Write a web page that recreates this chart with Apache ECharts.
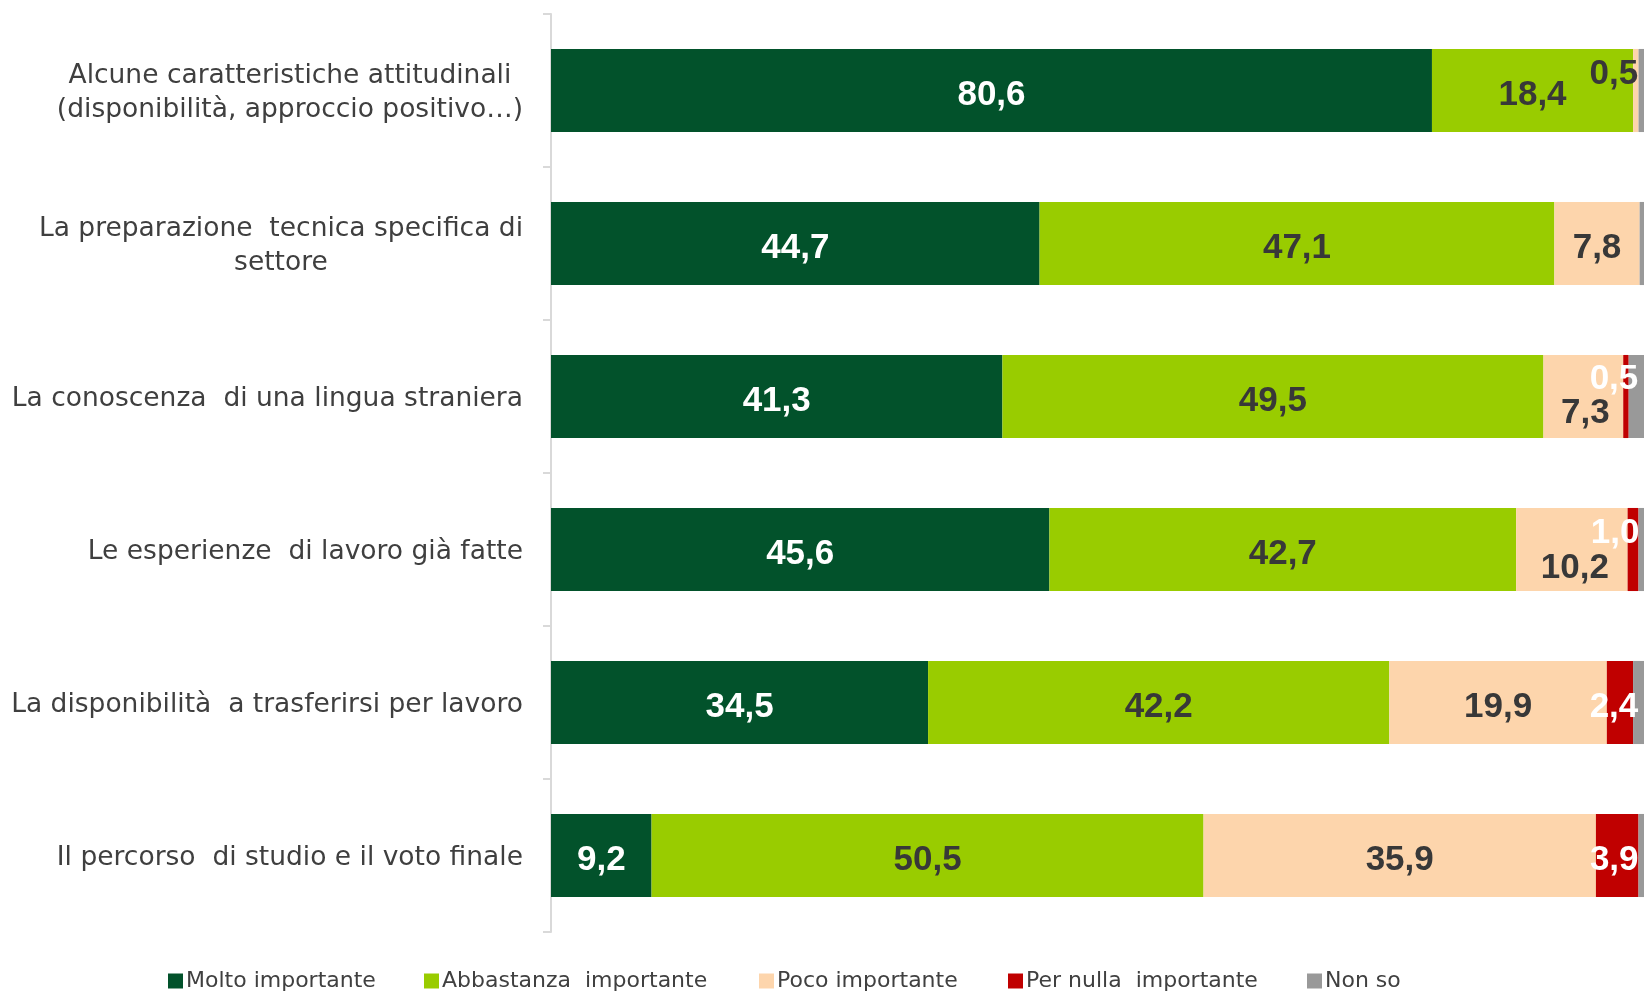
<!DOCTYPE html>
<html>
<head>
<meta charset="utf-8">
<style>
  html, body { margin: 0; padding: 0; background: #ffffff; }
  #chart { width: 1646px; height: 995px; }
</style>
<script src="https://cdn.jsdelivr.net/npm/echarts@6/dist/echarts.min.js"></script>
</head>
<body>
<div id="chart"></div>
<script>
// Survey: importance of each factor when looking for a job (% of respondents)
const categories = [
  'Alcune caratteristiche attitudinali\n(disponibilità, approccio positivo…)',
  'La preparazione  tecnica specifica di\nsettore',
  'La conoscenza  di una lingua straniera',
  'Le esperienze  di lavoro già fatte',
  'La disponibilità  a trasferirsi per lavoro',
  'Il percorso  di studio e il voto finale'
];

const seriesNames = [
  'Molto importante',
  'Abbastanza  importante',
  'Poco importante',
  'Per nulla  importante',
  'Non so'
];

const moltoImportante      = [80.6, 44.7, 41.3, 45.6, 34.5, 9.2];
const abbastanzaImportante = [18.4, 47.1, 49.5, 42.7, 42.2, 50.5];
const pocoImportante       = [0.5, 7.8, 7.3, 10.2, 19.9, 35.9];
const perNullaImportante   = [0.0, 0.0, 0.5, 1.0, 2.4, 3.9];
const nonSo                = [0.5, 0.4, 1.4, 0.5, 1.0, 0.5];

const seriesValues = [moltoImportante, abbastanzaImportante, pocoImportante, perNullaImportante, nonSo];

// Look of each series: fill colour, label colour, whether values are printed
const seriesColors = ['#02522b', '#99cc00', '#fdd5ac', '#c00000', '#999999'];
const labelColors  = ['#ffffff', '#383838', '#383838', '#ffffff', '#383838'];
const showLabels   = [true, true, true, true, false];

const textFont = 'DejaVu Sans, Liberation Sans, sans-serif';
const valueFont = 'Liberation Sans, Arial, sans-serif';

// Base nudge for every value label, plus extra nudges for the thin segments
// at the right end of the bars so their labels do not overlap: [series][row] -> [dx, dy]
const baseShift = [0, 5];
const labelShift = {
  2: { 0: [-22, -21], 2: [2, 12], 3: [3, 14] },
  3: { 2: [-12, -22], 3: [-18, -21], 4: [-6, 0], 5: [-3, 0] }
};

const fmt = v => v.toFixed(1).replace('.', ',');

const series = seriesNames.map((name, s) => ({
  name: name,
  type: 'bar',
  stack: 'total',
  barCategoryGap: '45.7%',
  itemStyle: { color: seriesColors[s] },
  label: {
    show: showLabels[s],
    position: 'inside',
    offset: baseShift,
    color: labelColors[s],
    fontFamily: valueFont,
    fontWeight: 'bold',
    fontSize: 35,
    formatter: p => (p.value > 0 ? fmt(p.value) : '')
  },
  emphasis: { disabled: true },
  data: seriesValues[s].map((v, i) => {
    const item = { value: v };
    const shift = labelShift[s] && labelShift[s][i];
    if (shift) item.label = { offset: [baseShift[0] + shift[0], baseShift[1] + shift[1]] };
    return item;
  })
}));

// One legend per entry so each sits at its own spot along the bottom
const legendLeft = [168, 424, 759, 1008, 1307];
const legends = seriesNames.map((name, s) => ({
  data: [name],
  left: legendLeft[s],
  top: 970,
  orient: 'horizontal',
  icon: 'rect',
  itemWidth: 15,
  itemHeight: 15,
  itemGap: 0,
  padding: 0,
  selectedMode: false,
  textStyle: {
    fontFamily: textFont,
    fontSize: 22,
    color: '#404040',
    padding: [0, 0, 0, -2]
  }
}));

const chart = echarts.init(document.getElementById('chart'), null, { renderer: 'canvas' });

chart.setOption({
  animation: false,
  backgroundColor: '#ffffff',
  grid: { left: 551, right: 2, top: 14, bottom: 63, containLabel: false },
  legend: legends,
  xAxis: {
    type: 'value',
    min: 0,
    max: 100,
    show: false
  },
  yAxis: {
    type: 'category',
    inverse: true,
    data: categories,
    axisLine: { show: true, lineStyle: { color: '#d9d9d9', width: 2 } },
    axisTick: { show: true, length: 8, lineStyle: { color: '#d9d9d9', width: 2 } },
    axisLabel: {
      margin: 28,
      fontFamily: textFont,
      fontSize: 26.5,
      color: '#3f3f3f',
      lineHeight: 34,
      formatter: v => v.split('\n').map(line => '{c|' + line + '}').join('\n'),
      rich: {
        c: {
          align: 'center',
          fontFamily: textFont,
          fontSize: 26.5,
          color: '#3f3f3f',
          lineHeight: 34,
          padding: [6, 0, 0, 0]
        }
      }
    }
  },
  series: series
});
</script>
</body>
</html>
